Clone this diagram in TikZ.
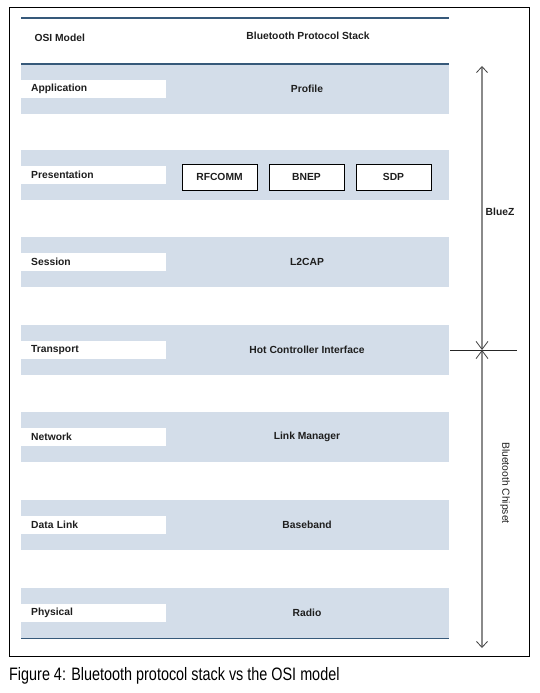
\documentclass[tikz,border=0pt]{standalone}
\usepackage{fontspec}
\setmainfont{Liberation Sans}
\newfontfamily\capfont[FakeStretch=0.8]{Liberation Sans}
\usetikzlibrary{arrows.meta}
\definecolor{bandblue}{HTML}{D3DDE9}
\definecolor{lineblue}{HTML}{36597A}
\definecolor{txt}{HTML}{1E1E1E}
\definecolor{arrgray}{HTML}{8A8A8A}
\begin{document}
\begin{tikzpicture}[x=1pt,y=-1pt,
  every node/.style={font=\fontsize{10.3}{12}\selectfont\bfseries, text=txt},
  band/.style={fill=bandblue, draw=none, minimum width=428pt, minimum height=50pt, inner sep=0pt, anchor=north west},
  osibox/.style={fill=white, draw=none, minimum width=145pt, minimum height=18pt, inner sep=0pt, inner xsep=10pt, anchor=west, text width=125pt, align=left},
  protobox/.style={draw=black, line width=0.9pt, fill=white, minimum width=75pt, minimum height=26pt, inner sep=0pt},
  stacktext/.style={anchor=center},
  span/.style={draw=arrgray, line width=1.1pt, {Straight Barb[length=8pt,width=12pt,color=black!75,line width=0.8pt]}-{Straight Barb[length=6pt,width=11pt,color=black!75,line width=0.8pt]}}
]
\useasboundingbox (0,0) rectangle (539,693);
\node[draw=black, line width=1.3pt, minimum width=520pt, minimum height=649pt, inner sep=0pt, anchor=north west] (frame) at (9,7) {};

% header
\draw[lineblue, line width=1.2pt] (21,18) -- (449,18);
\node[anchor=west] (osihead) at (31,38) {OSI Model};
\node (bthead) at (308,36) {Bluetooth Protocol Stack};

% bands
\foreach \n/\y/\lab/\txt in {app/64/Application/Profile, pres/150/Presentation/, sess/237/Session/L2CAP, trans/325/Transport/Hot Controller Interface, net/412/Network/Link Manager, dl/500/Data Link/Baseband, phy/588/Physical/Radio}{
  \node[band] (\n) at (21,\y) {};
  \node[osibox] (\n-osi) at (21,\y+25) {\raisebox{1pt}{\lab}};
  \node[stacktext] (\n-bt) at (307,\y+25) {\txt};
}
\draw[lineblue, line width=1.2pt] (app.north west) -- (app.north east);
\draw[lineblue, line width=1.2pt] (phy.south west) -- (phy.south east);

% presentation sub-boxes
\node[protobox] (rfcomm) at (219.5,177) {RFCOMM};
\node[protobox] (bnep) at (306.5,177) {BNEP};
\node[protobox] (sdp) at (393.5,177) {SDP};

% spans
\coordinate (bztop) at (482,66);
\coordinate (mid) at (482,350);
\coordinate (chbot) at (482,648);
\coordinate (hl) at (450,350);
\coordinate (hr) at (517,350);
\draw[black!85, line width=0.7pt] (hl) -- (hr);
\draw[span] (mid) -- (bztop);
\draw[span] (mid) -- (chbot);
\node (bluez) at (500,212) {BlueZ};
\node[font=\fontsize{10.3}{12}\selectfont, rotate=-90] (chip) at (505,483) {Bluetooth Chipset};

% caption
\node[anchor=west, inner sep=0pt, font=\capfont\fontsize{18}{21}\selectfont, text=black] (caption) at (9,676) {Figure 4: Bluetooth protocol stack vs the OSI model};
\end{tikzpicture}
\end{document}
